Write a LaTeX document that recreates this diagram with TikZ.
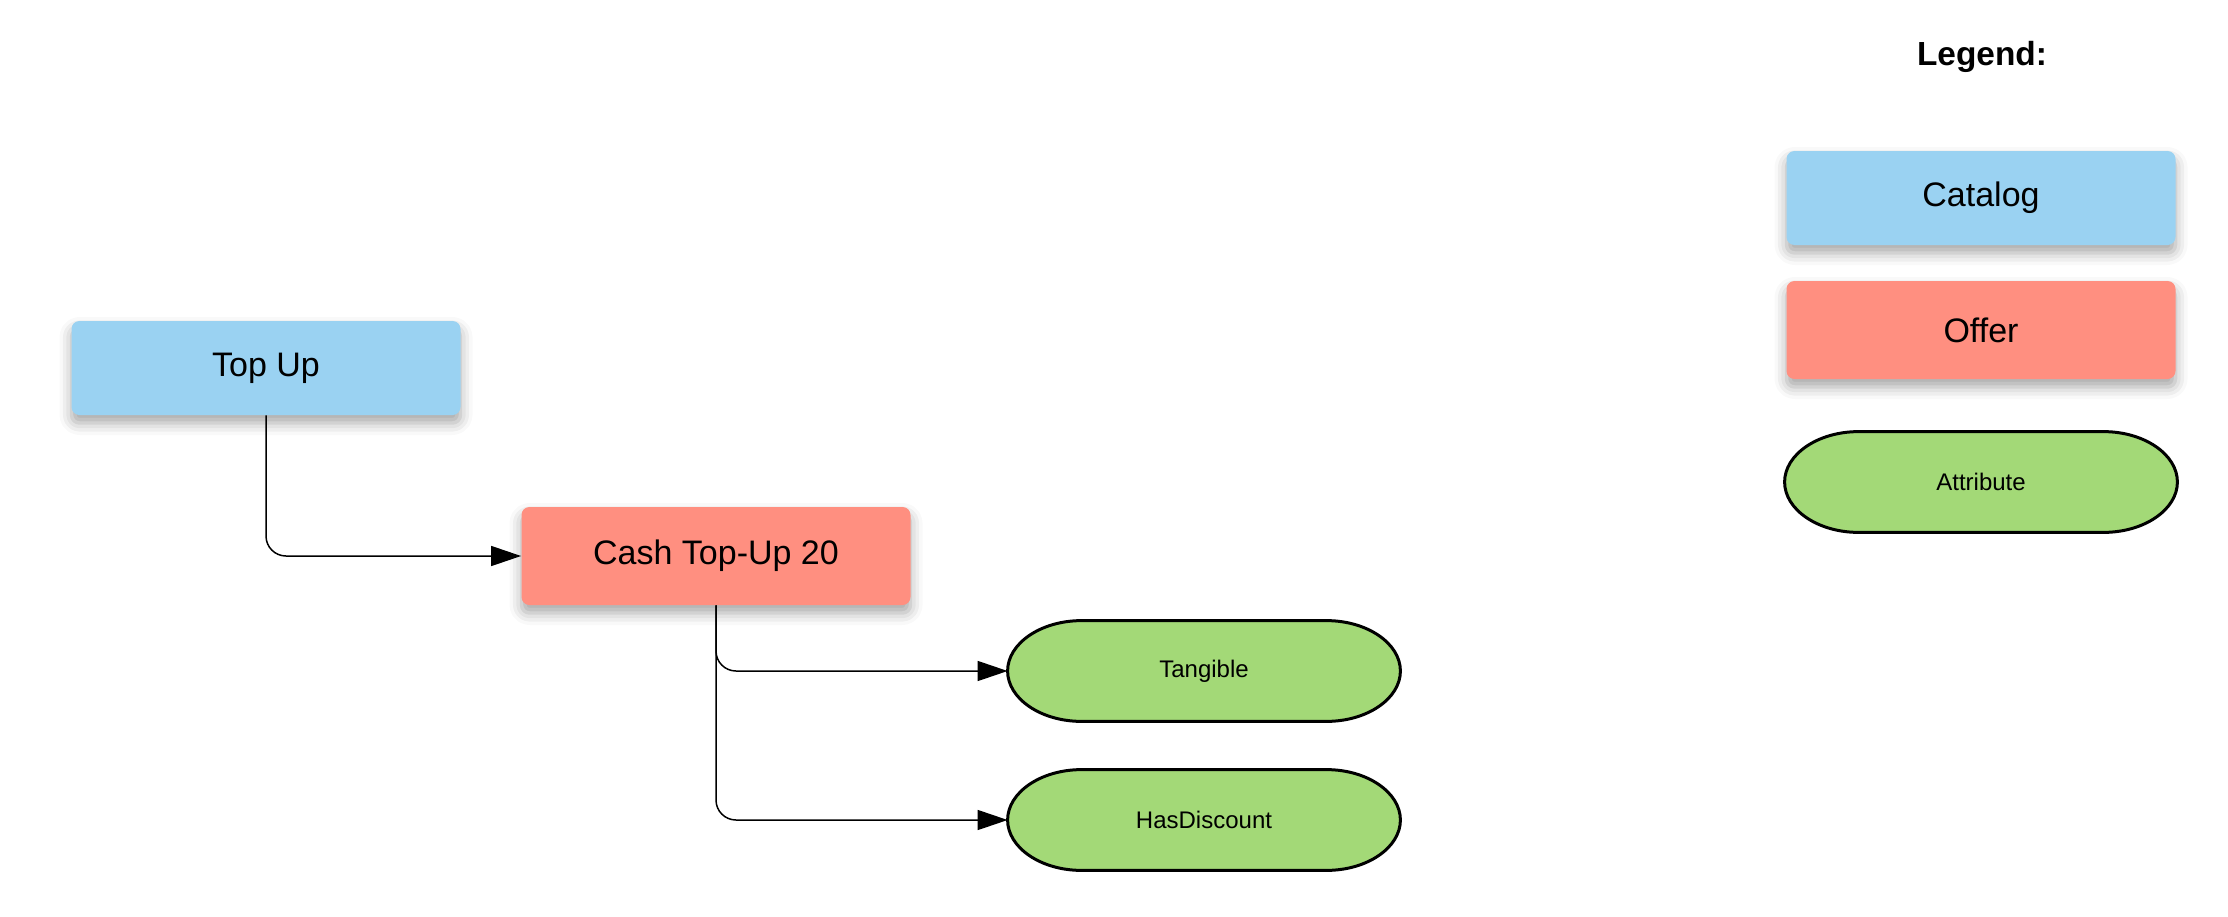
\documentclass[tikz,border=0pt]{standalone}
\usepackage{fontspec}
\setmainfont{Liberation Sans}
\usepackage{tikz}
\usetikzlibrary{arrows.meta, positioning, calc, backgrounds, shadows.blur}
\definecolor{catblue}{HTML}{9AD2F2}
\definecolor{offred}{HTML}{FF8F80}
\definecolor{attgreen}{HTML}{A3D977}

\begin{document}
\begin{tikzpicture}[x=0.5pt, y=-0.5pt,
  box/.style={rectangle, rounded corners=4pt, minimum width=194.5pt, minimum height=47pt,
    font=\fontsize{17}{20}\selectfont,
    blur shadow={shadow xshift=0pt, shadow yshift=-4pt, shadow blur radius=6pt, shadow opacity=35}},
  catalog/.style={box, fill=catblue},
  offer/.style={box, fill=offred, minimum height=49pt},
  attr/.style={rectangle, minimum width=196pt, minimum height=50pt, font=\fontsize{12}{14}\selectfont},
  pill/.style={draw=black, line width=1.5pt, fill=attgreen},
  arr/.style={-{Triangle[length=15pt, width=10pt]}, line width=0.75pt, rounded corners=10pt}
]
\useasboundingbox (0,0) rectangle (2228,916);
% --- Main diagram ---
\node[catalog] (topup) at (266,368) {Top Up};
\node[offer] (cash) at (716,556) {Cash Top-Up 20};
\node[attr] (tangible) at (1204,671) {Tangible};
\node[attr] (discount) at (1204,820) {HasDiscount};
\draw[arr] (topup.south) |- (cash.west);
\draw[arr] (cash.south) |- (tangible.west);
\draw[arr] (cash.south) |- (discount.west);
% --- Legend ---
\node[font=\fontsize{16.7}{19}\selectfont\bfseries] (legend) at (1982,57) {Legend:};
\node[catalog] (catkey) at (1981,198) {Catalog};
\node[offer] (offkey) at (1981,330) {Offer};
\node[attr] (attkey) at (1981,482) {Attribute};
% --- Attribute outlines ---
\begin{scope}[on background layer]
\foreach \n in {tangible, discount, attkey}
  \draw[pill] ($(\n.north west)+(37pt,0)$) -- ($(\n.north east)+(-37pt,0)$)
    .. controls +(20.4pt,0) and +(0,13.8pt) .. (\n.east)
    .. controls +(0,-13.8pt) and +(20.4pt,0) .. ($(\n.south east)+(-37pt,0)$)
    -- ($(\n.south west)+(37pt,0)$)
    .. controls +(-20.4pt,0) and +(0,-13.8pt) .. (\n.west)
    .. controls +(0,13.8pt) and +(-20.4pt,0) .. ($(\n.north west)+(37pt,0)$) -- cycle;
\end{scope}
\end{tikzpicture}
\end{document}
